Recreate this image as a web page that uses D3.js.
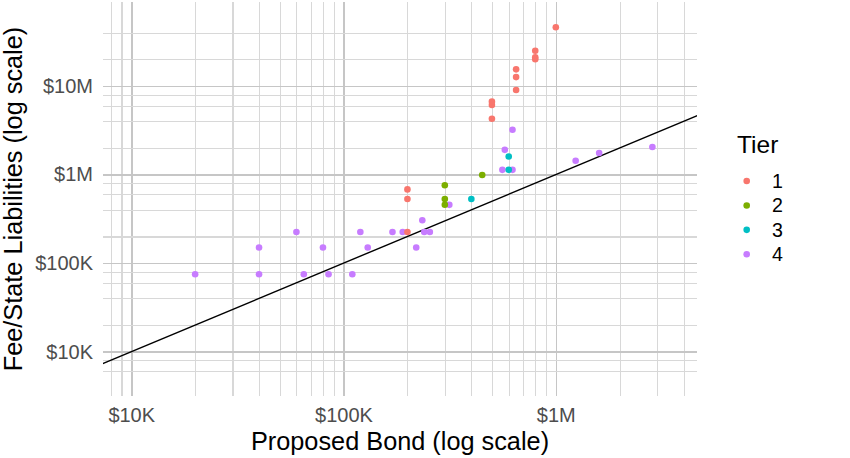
<!DOCTYPE html>
<html lang="en">
<meta charset="utf-8">
<style>
body { margin: 0; background: #fff; }
svg { font-family: "Liberation Sans", Arial, sans-serif; }
.grid line { stroke: #d8d8d8; stroke-width: 1.1px; shape-rendering: crispEdges; }
.grid line.major { stroke: #c6c6c6; stroke-width: 1.6px; }
.grid path { display: none; }
.axis path, .axis line { display: none; }
.axis text { fill: #4d4d4d; font-size: 20px; }
.ref { stroke: #000; stroke-width: 1.4px; }
</style>
<body>
<script src="https://d3js.org/d3.v7.min.js"></script>
<script>

// data
var bond = [20e3, 40e3, 40e3, 60e3, 65e3, 80e3, 85e3, 110e3, 120e3, 130e3, 170e3, 190e3,
            220e3, 235e3, 240e3, 255e3, 315e3, 560e3, 575e3, 625e3, 625e3, 1.24e6, 1.6e6, 2.85e6,
            400e3, 600e3, 600e3,
            300e3, 300e3, 300e3, 450e3,
            200e3, 200e3, 200e3, 500e3, 500e3, 500e3, 650e3, 650e3, 650e3, 800e3, 800e3, 800e3, 1e6];
var liab = [75e3, 150e3, 75e3, 225e3, 75e3, 150e3, 75e3, 75e3, 225e3, 150e3, 225e3, 225e3,
            150e3, 305e3, 225e3, 225e3, 455e3, 1.13e6, 1.9e6, 3.2e6, 1.13e6, 1.43e6, 1.75e6, 2.05e6,
            530e3, 1.6e6, 1.13e6,
            757e3, 530e3, 457e3, 990e3,
            225e3, 680e3, 530e3, 4.27e6, 6.1e6, 6.65e6, 9e6, 12.6e6, 15.4e6, 20e6, 21.1e6, 25e6, 46e6];
var tier = [4, 4, 4, 4, 4, 4, 4, 4, 4, 4, 4, 4,
            4, 4, 4, 4, 4, 4, 4, 4, 4, 4, 4, 4,
            3, 3, 3,
            2, 2, 2, 2,
            1, 1, 1, 1, 1, 1, 1, 1, 1, 1, 1, 1, 1];

var tiers = [1, 2, 3, 4];
var tierColors = ["#F8766D", "#7CAE00", "#00BFC4", "#C77CFF"];

var xTicks = [1e4, 1e5, 1e6];
var xTickLabels = ["$10K", "$100K", "$1M"];
var yTicks = [1e4, 1e5, 1e6, 1e7];
var yTickLabels = ["$10K", "$100K", "$1M", "$10M"];

var xGrid = [8e3, 9e3, 1e4, 2e4, 3e4, 4e4, 5e4, 6e4, 7e4, 8e4, 9e4,
             1e5, 2e5, 3e5, 4e5, 5e5, 6e5, 7e5, 8e5, 9e5, 1e6, 2e6, 3e6, 4e6];
var yGrid = [6e3, 8e3, 1e4, 2e4, 4e4, 6e4, 8e4, 1e5, 2e5, 4e5, 6e5, 8e5,
             1e6, 2e6, 4e6, 6e6, 8e6, 1e7, 2e7, 4e7];

var width = 850, height = 458;
var panel = {left: 103, top: 2, right: 697, bottom: 396};

var x = d3.scaleLog().domain([Math.pow(10, 3.867), Math.pow(10, 6.665)]).range([panel.left, panel.right]);
var y = d3.scaleLog().domain([Math.pow(10, 3.5), Math.pow(10, 7.948)]).range([panel.bottom, panel.top]);
var colour = d3.scaleOrdinal().domain(tiers).range(tierColors);

var svg = d3.select("body").append("svg")
    .attr("width", width)
    .attr("height", height);

// grid
svg.append("g")
    .attr("class", "grid")
    .attr("transform", "translate(0," + panel.bottom + ")")
    .call(d3.axisBottom(x).tickValues(xGrid).tickSize(-(panel.bottom - panel.top)).tickFormat(""))
  .selectAll("line")
    .classed("major", function(d) { return xTicks.indexOf(d) >= 0; });

svg.append("g")
    .attr("class", "grid")
    .attr("transform", "translate(" + panel.left + ",0)")
    .call(d3.axisLeft(y).tickValues(yGrid).tickSize(-(panel.right - panel.left)).tickFormat(""))
  .selectAll("line")
    .classed("major", function(d) { return yTicks.indexOf(d) >= 0; });

// axes
svg.append("g")
    .attr("class", "axis")
    .attr("transform", "translate(0," + panel.bottom + ")")
    .call(d3.axisBottom(x).tickValues(xTicks).tickSize(0).tickPadding(12)
      .tickFormat(function(d, i) { return xTickLabels[i]; }));

svg.append("g")
    .attr("class", "axis")
    .attr("transform", "translate(" + panel.left + ",0)")
    .call(d3.axisLeft(y).tickValues(yTicks).tickSize(0).tickPadding(10)
      .tickFormat(function(d, i) { return yTickLabels[i]; }));

// clip for the reference line
svg.append("clipPath").attr("id", "panel")
  .append("rect")
    .attr("x", panel.left).attr("y", panel.top)
    .attr("width", panel.right - panel.left).attr("height", panel.bottom - panel.top);

// y = x line
var lo = 1e3, hi = 1e8;
svg.append("line")
    .attr("class", "ref")
    .attr("clip-path", "url(#panel)")
    .attr("x1", x(lo)).attr("y1", y(lo))
    .attr("x2", x(hi)).attr("y2", y(hi));

// points
var idx = d3.range(bond.length);
svg.append("g")
  .selectAll("circle")
  .data(idx)
  .enter().append("circle")
    .attr("cx", function(i) { return x(bond[i]); })
    .attr("cy", function(i) { return y(liab[i]); })
    .attr("r", 3.3)
    .attr("fill", function(i) { return colour(tier[i]); });

// axis titles
svg.append("text")
    .attr("x", (panel.left + panel.right) / 2)
    .attr("y", 450)
    .attr("text-anchor", "middle")
    .style("font-size", "25.3px")
    .text("Proposed Bond (log scale)");

svg.append("text")
    .attr("transform", "translate(22," + ((panel.top + panel.bottom) / 2) + ") rotate(-90)")
    .attr("text-anchor", "middle")
    .style("font-size", "25.3px")
    .text("Fee/State Liabilities (log scale)");

// legend
var ly = d3.scalePoint().domain(tiers).range([181, 254.3]);
svg.append("text")
    .attr("x", 737)
    .attr("y", 153)
    .style("font-size", "24.5px")
    .text("Tier");

var key = svg.append("g").selectAll("g")
  .data(tiers)
  .enter().append("g")
    .attr("transform", function(d) { return "translate(0," + ly(d) + ")"; });

key.append("circle")
    .attr("cx", 746.7)
    .attr("r", 3.3)
    .attr("fill", function(d) { return colour(d); });

key.append("text")
    .attr("x", 772)
    .attr("dy", "0.36em")
    .style("font-size", "19.6px")
    .text(function(d) { return d; });

</script>
</body>
</html>
